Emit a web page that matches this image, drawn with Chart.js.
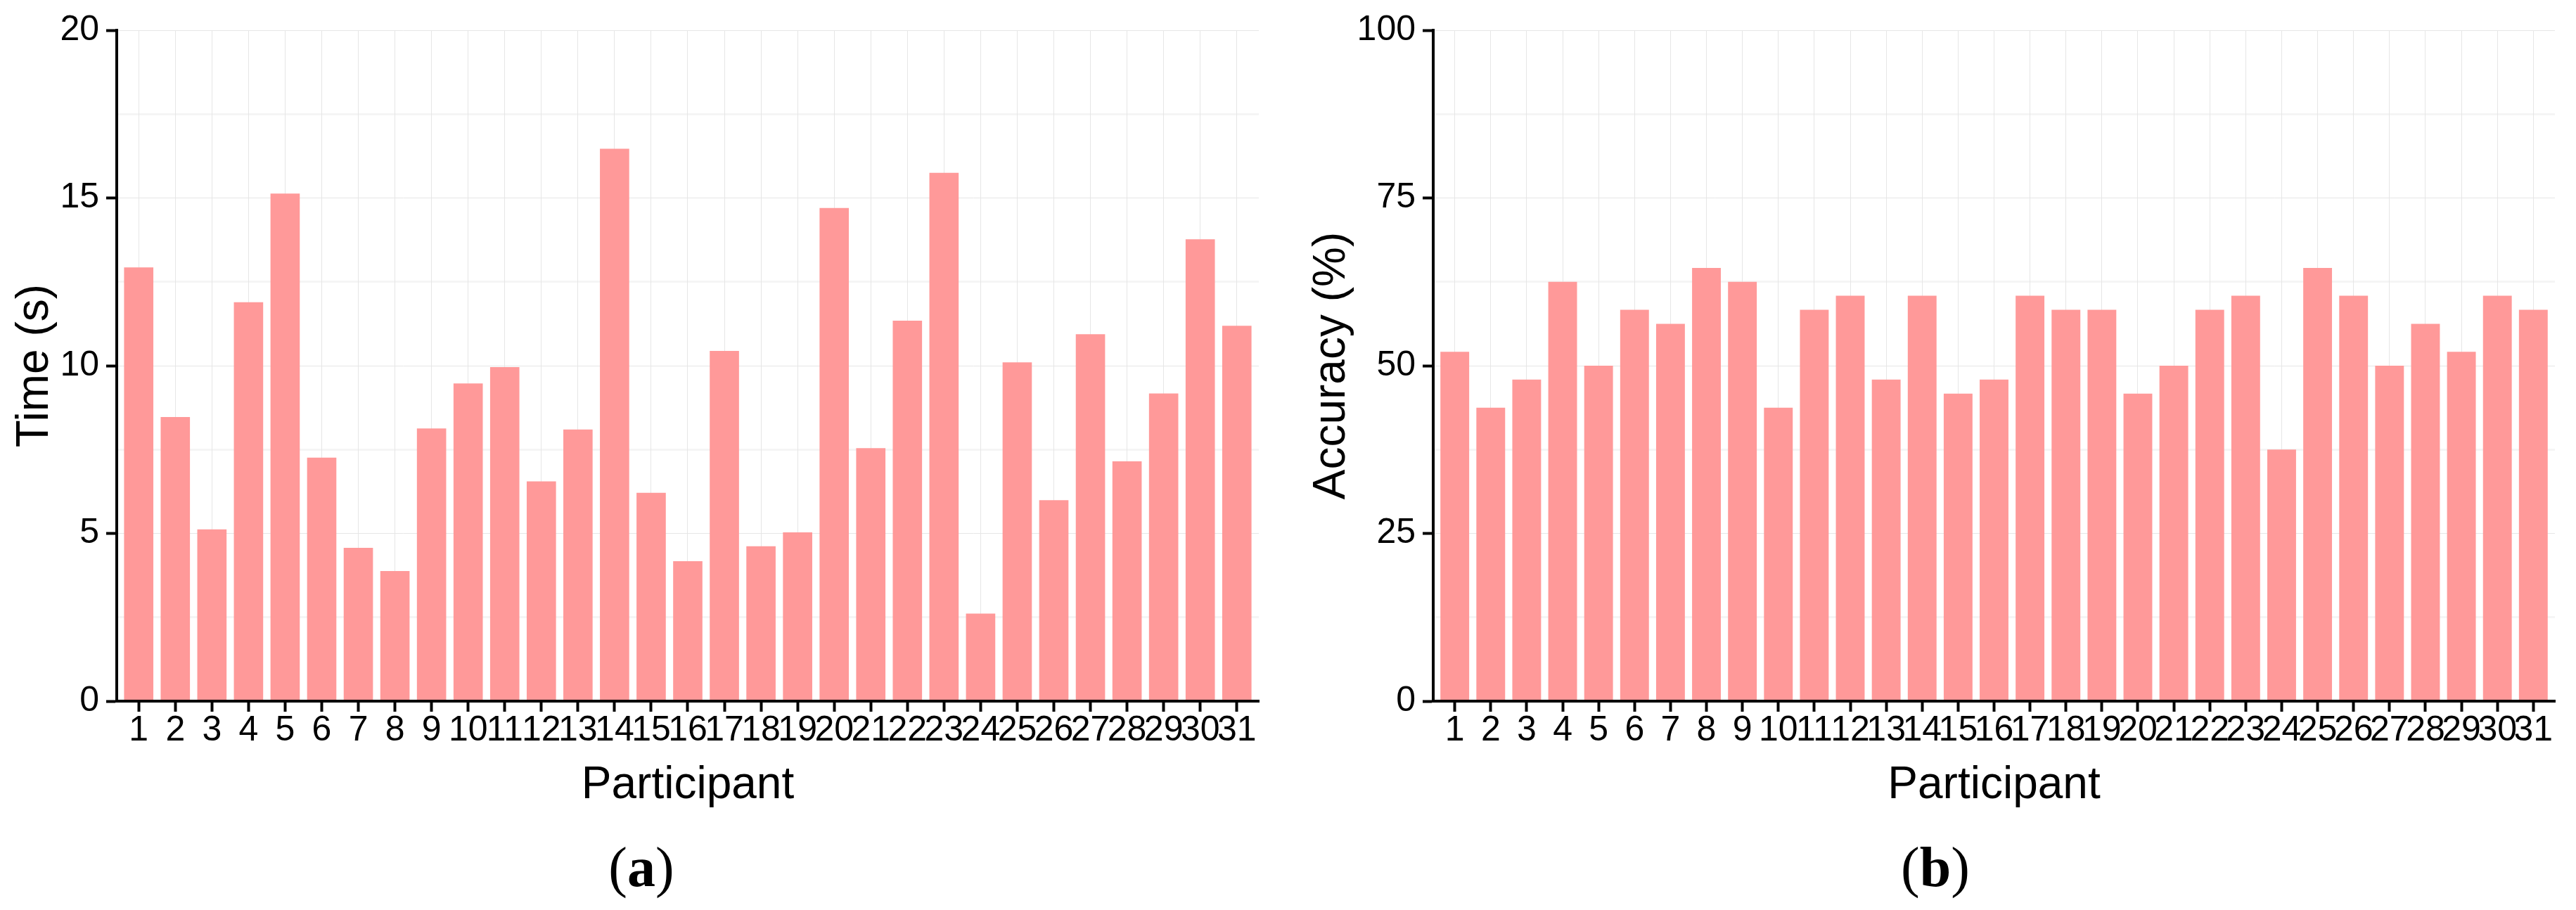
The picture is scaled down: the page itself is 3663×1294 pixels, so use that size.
<!DOCTYPE html>
<html>
<head>
<meta charset="utf-8">
<title>Time and accuracy per participant</title>
<script src="https://cdn.jsdelivr.net/npm/chart.js"></script>
<style>
  body { margin: 0; background: #fff; }
  #figure { position: relative; width: 3663px; height: 1294px; overflow: hidden; }
  #figure canvas { position: absolute; top: 0; }
  #chart-time { left: 0; }
  #chart-acc { left: 1831px; }
  .caption {
    position: absolute;
    top: 1193px;
    font-family: "Liberation Serif", "Times New Roman", serif;
    font-size: 80px;
    line-height: 80px;
    transform: translateX(-50%);
    white-space: nowrap;
    color: #000;
  }
</style>
</head>
<body>
<div id="figure">
  <canvas id="chart-time" width="1831" height="1294"></canvas>
  <canvas id="chart-acc" width="1832" height="1294"></canvas>
  <div class="caption" style="left: 912px">(<b>a</b>)</div>
  <div class="caption" style="left: 2752px">(<b>b</b>)</div>
</div>
<script>
// participants 1..31
const participants = [1, 2, 3, 4, 5, 6, 7, 8, 9, 10, 11, 12, 13, 14, 15, 16,
                      17, 18, 19, 20, 21, 22, 23, 24, 25, 26, 27, 28, 29, 30, 31];

// (a) time in seconds
const timeValues = [12.93, 8.47, 5.12, 11.89, 15.13, 7.26, 4.57, 3.88, 8.13, 9.47, 9.96,
                    6.55, 8.10, 16.47, 6.21, 4.17, 10.44, 4.62, 5.03, 14.70, 7.54, 11.34,
                    15.75, 2.61, 10.10, 5.99, 10.94, 7.15, 9.17, 13.77, 11.19];

// (b) accuracy in percent
const accuracyValues = [52.08, 43.75, 47.92, 62.5, 50, 58.33, 56.25, 64.58, 62.5, 43.75, 58.33,
                        60.42, 47.92, 60.42, 45.83, 47.92, 60.42, 58.33, 58.33, 45.83, 50, 58.33,
                        60.42, 37.5, 64.58, 60.42, 50, 56.25, 52.08, 60.42, 58.33];

const timeTicks = [0, 5, 10, 15, 20];
const timeMinorTicks = [2.5, 7.5, 12.5, 17.5];
const accuracyTicks = [0, 25, 50, 75, 100];
const accuracyMinorTicks = [12.5, 37.5, 62.5, 87.5];

const FONT = "'Liberation Sans', Arial, Helvetica, sans-serif";
const tickFont = { family: FONT, size: 50, lineHeight: 1.1 };
const titleFont = { family: FONT, size: 64, lineHeight: 1.2 };

const PLOT_TOP = 43;
const PLOT_BOTTOM = 997;   // x axis line
const CANVAS_H = 1294;

function buildChart(canvasId, values, yTicks, yMinor, yTitle, axisWidth, padRight, yTitlePad) {
  const ctx = document.getElementById(canvasId);

  return new Chart(ctx, {
    type: 'bar',
    data: {
      labels: participants,
      datasets: [{
        data: values,
        backgroundColor: '#ff9999',
        borderWidth: 0,
        barPercentage: 0.8,
        categoryPercentage: 1
      }]
    },
    options: {
      responsive: false,
      animation: false,
      devicePixelRatio: 1,
      layout: {
        padding: { top: PLOT_TOP, right: padRight, bottom: 0, left: 0 }
      },
      plugins: {
        legend: { display: false },
        tooltip: { enabled: false }
      },
      scales: {
        x: {
          type: 'linear',
          offset: false,
          // ggplot style: 0.6 of a band on each side
          min: participants[0] - 0.6,
          max: participants[participants.length - 1] + 0.6,
          afterBuildTicks: (scale) => {
            scale.ticks = participants.map(p => ({ value: p }));
          },
          afterFit: (scale) => { scale.height = CANVAS_H - PLOT_BOTTOM; },
          ticks: {
            autoSkip: false,
            maxRotation: 0,
            minRotation: 0,
            padding: 0,
            color: '#000',
            font: tickFont,
            callback: (value, index) => String(participants[index])
          },
          grid: {
            offset: false,
            color: '#e6e6e6',
            lineWidth: 1,
            tickLength: 15,
            tickWidth: 4,
            tickColor: '#000'
          },
          border: { color: '#000', width: 4, z: 1 },
          title: {
            display: true,
            text: 'Participant',
            color: '#000',
            font: titleFont,
            padding: { top: 0, bottom: 138 }
          }
        },
        y: {
          type: 'linear',
          position: 'left',
          min: yTicks[0],
          max: yTicks[yTicks.length - 1],
          afterBuildTicks: (scale) => {
            scale.ticks = yTicks.map(v => ({ value: v }));
          },
          afterFit: (scale) => { scale.width = axisWidth; },
          ticks: {
            padding: 10,
            color: '#000',
            font: tickFont,
            callback: (value) => String(value)
          },
          grid: {
            color: '#e6e6e6',
            lineWidth: 1,
            tickLength: 15,
            tickWidth: 4,
            tickColor: '#000'
          },
          border: { color: '#000', width: 4, z: 1 },
          title: {
            display: true,
            text: yTitle,
            color: '#000',
            font: titleFont,
            padding: { top: yTitlePad, bottom: 0 }
          }
        },
        // minor grid lines only, no labels
        yMinor: {
          type: 'linear',
          position: 'right',
          min: yTicks[0],
          max: yTicks[yTicks.length - 1],
          afterBuildTicks: (scale) => {
            scale.ticks = yMinor.map(v => ({ value: v }));
          },
          afterFit: (scale) => { scale.width = 0; },
          ticks: { display: false },
          grid: {
            color: '#f5f5f5',
            lineWidth: 3,
            drawTicks: false,
            z: -2
          },
          border: { display: false }
        }
      }
    }
  });
}

buildChart('chart-time', timeValues, timeTicks, timeMinorTicks, 'Time (s)', 166, 41, 12);
buildChart('chart-acc', accuracyValues, accuracyTicks, accuracyMinorTicks, 'Accuracy (%)', 207, 30, 25);
</script>
</body>
</html>
